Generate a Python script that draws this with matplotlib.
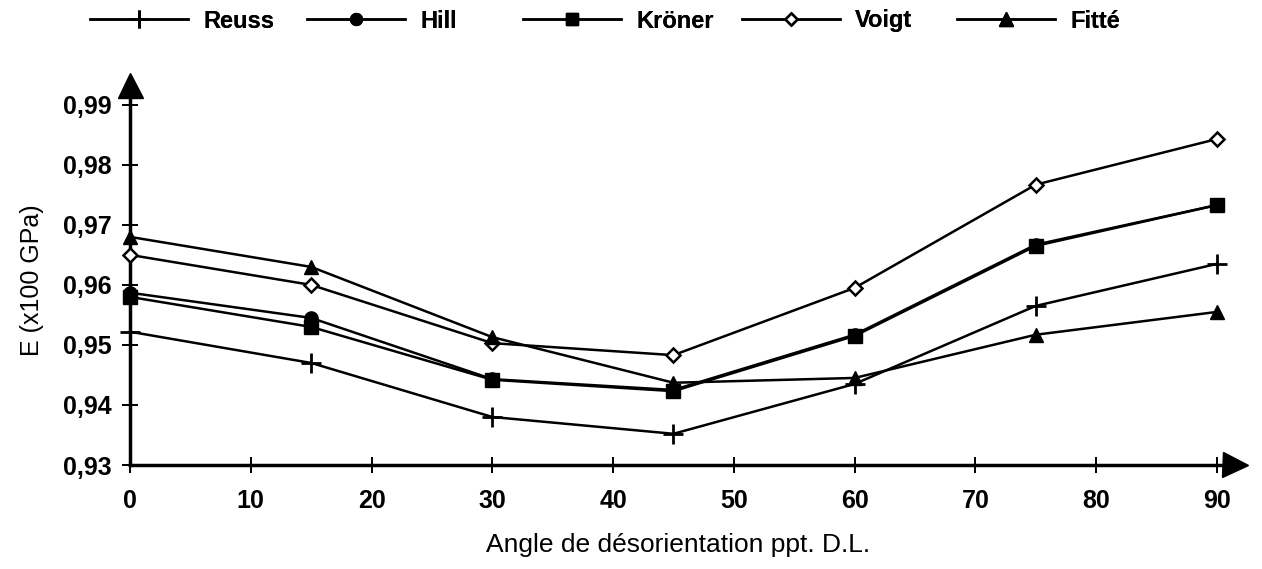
import matplotlib
matplotlib.use("Agg")
import matplotlib.pyplot as plt

angles = [0, 15, 30, 45, 60, 75, 90]
reuss = [0.9522, 0.9470, 0.9380, 0.9352, 0.9435, 0.9565, 0.9635]
hill = [0.9587, 0.9545, 0.9443, 0.9425, 0.9517, 0.9667, 0.9733]
kroner = [0.9580, 0.9530, 0.9442, 0.9423, 0.9515, 0.9665, 0.9733]
voigt = [0.9650, 0.9600, 0.9503, 0.9483, 0.9595, 0.9767, 0.9843]
fitte = [0.9680, 0.9630, 0.9513, 0.9437, 0.9445, 0.9517, 0.9555]
series_names = ['Reuss', 'Hill', 'Kröner', 'Voigt', 'Fitté']

xticks = [0, 10, 20, 30, 40, 50, 60, 70, 80, 90]
yticks = [0.93, 0.94, 0.95, 0.96, 0.97, 0.98, 0.99]
ytick_labels = ["0,93", "0,94", "0,95", "0,96", "0,97", "0,98", "0,99"]

plt.rcParams['font.family'] = ['Liberation Sans', 'DejaVu Sans']

W, H = 1262, 569
fig = plt.figure(figsize=(W / 100, H / 100), dpi=100)
ax = fig.add_axes([130 / W, 1 - 465 / H, 1105 / W, 380 / H])

lw = 1.8
styles = [
    dict(marker='+', ms=14, mew=2.0),
    dict(marker='o', ms=9.5),
    dict(marker='s', ms=9.5),
    dict(marker='D', ms=7, mfc='white', mew=1.8),
    dict(marker='^', ms=10.5),
]
data = [reuss, hill, kroner, voigt, fitte]
lines = []
for name, vals, st in zip(series_names, data, styles):
    ln, = ax.plot(angles, vals, color='black', lw=lw, label=name, clip_on=False, zorder=3, **st)
    lines.append(ln)

ax.set_xlim(0, 91.5)
ax.set_ylim(0.93, 0.9933)
ax.set_xticks(xticks)
ax.set_yticks(yticks)
ax.set_yticklabels(ytick_labels)
for lab in ax.get_xticklabels() + ax.get_yticklabels():
    lab.set_fontweight('bold')
    lab.set_fontsize(18)
ax.tick_params(axis='both', direction='inout', length=12, width=1.4, color='black')
ax.tick_params(axis='x', pad=11)
ax.tick_params(axis='y', pad=7)

for s in ['top', 'right']:
    ax.spines[s].set_visible(False)
for s in ['left', 'bottom']:
    ax.spines[s].set_linewidth(2.5)

# arrow heads
ax.plot([1.0], [0], marker='>', ms=18, color='black', transform=ax.transAxes, clip_on=False)
ax.plot([0], [1.0], marker='^', ms=18, color='black', transform=ax.transAxes, clip_on=False)

ax.set_xlabel("Angle de désorientation ppt. D.L.", fontsize=19)
ax.xaxis.set_label_coords((678 - 130) / 1105, -(533 - 465) / 380)
ax.set_ylabel("E (x100 GPa)", fontsize=18)
ax.yaxis.set_label_coords(-(130 - 44) / 1105, (465 - 280) / 380)

# legend entries positioned individually along the top
leg_x = [90, 307, 523, 742, 957]
for ln, x0 in zip(lines, leg_x):
    leg = fig.legend(handles=[ln], loc='center left', bbox_to_anchor=(x0 / W, 1 - 21 / H),
                     frameon=False, prop={'weight': 'bold', 'size': 17},
                     handlelength=4.15, handletextpad=0.65, borderpad=0, borderaxespad=0)
    h = leg.legend_handles[0]
    h.set_markersize(h.get_markersize() * 0.9)
    fig.add_artist(leg)

fig.savefig("out.png", dpi=100)
